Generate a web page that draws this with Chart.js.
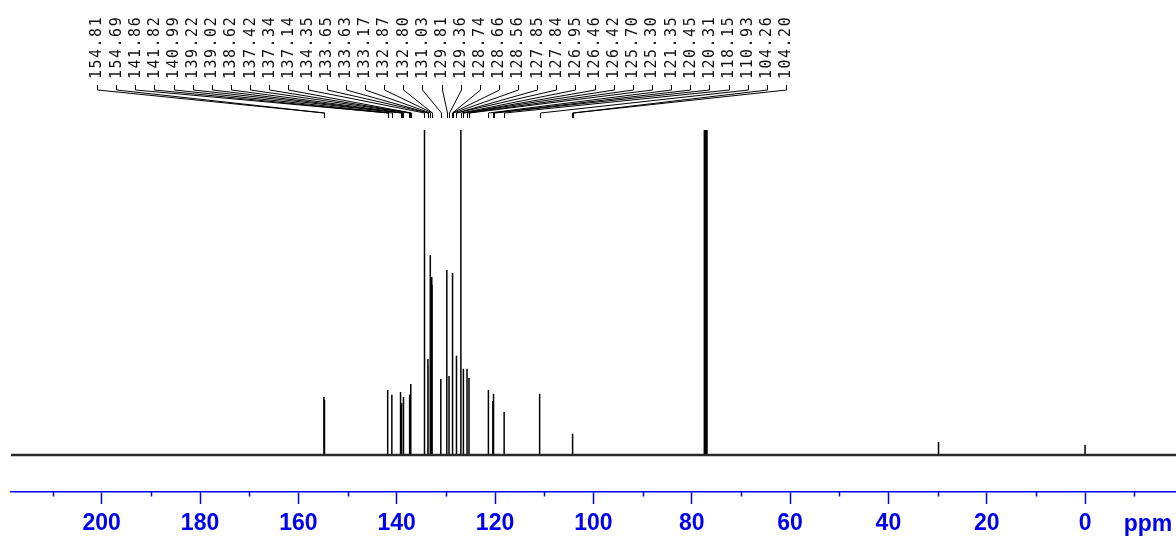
<!DOCTYPE html>
<html>
<head>
<meta charset="utf-8">
<script src="https://cdn.jsdelivr.net/npm/chart.js@4.4.1/dist/chart.umd.min.js"></script>
<style>
  html, body { margin: 0; padding: 0; background: #ffffff; }
  #wrap { width: 1176px; height: 538px; }
</style>
</head>
<body>
<div id="wrap"><canvas id="c" width="1176" height="538"></canvas></div>
<script>
// ---- Data ----
// Labeled peaks (ppm) as printed at the top of the spectrum
const labelPPM = [154.81, 154.69, 141.86, 141.82, 140.99, 139.22, 139.02, 138.62, 137.42, 137.34,
  137.14, 134.35, 133.65, 133.63, 133.17, 132.87, 132.80, 131.03, 129.81, 129.36,
  128.74, 128.66, 128.56, 127.85, 127.84, 126.95, 126.46, 126.42, 125.70, 125.30,
  121.35, 120.45, 120.31, 118.15, 110.93, 104.26, 104.20];
// Relative heights of those peaks (baseline = 0, chart top = 100; >100 is clipped)
const labelHeight = [17.8, 17.0, 20.0, 19.4, 18.5, 19.4, 16.0, 17.8, 18.5, 17.8,
  21.8, 110, 29.5, 27.7, 61.5, 54.8, 52.3, 23.4, 56.9, 24.3,
  56.0, 23.0, 24.6, 30.5, 29.8, 110, 26.5, 26.0, 26.5, 23.7,
  20.0, 16.6, 18.8, 13.2, 18.8, 6.5, 6.2];
// Unlabeled peaks: CDCl3 triplet, grease, TMS
const otherPPM = [77.43, 77.16, 76.89, 29.8, 0.0];
const otherHeight = [110, 110, 110, 4.0, 3.1];
// Axis
const axisMin = -18.5;
const axisMax = 218.45;
const tickStep = 10;
const axisTitle = 'ppm';

// ---- Build spectrum as sticks from the peak arrays ----
const allPeaks = labelPPM.map((p, i) => ({ p, h: labelHeight[i] }))
  .concat(otherPPM.map((p, i) => ({ p, h: otherHeight[i] })))
  .sort((a, b) => b.p - a.p);
const spectrum = [{ x: axisMax, y: 0 }];
allPeaks.forEach(k => {
  spectrum.push({ x: k.p, y: 0 }, { x: k.p, y: k.h }, { x: k.p, y: 0 });
});
spectrum.push({ x: axisMin, y: 0 });
const baseline = [{ x: axisMax, y: 0 }, { x: axisMin, y: 0 }];

const BLUE = '#0000f0';

const peakLabelPlugin = {
  id: 'peakLabels',
  afterDraw(chart) {
    const ctx = chart.ctx;
    const xs = chart.scales.x;
    const n = labelPPM.length;
    const firstX = 97, lastX = 786;
    const step = (lastX - firstX) / (n - 1);
    ctx.save();
    // leader lines
    ctx.strokeStyle = '#000';
    ctx.lineWidth = 1;
    ctx.beginPath();
    for (let i = 0; i < n; i++) {
      const lx = Math.round(firstX + i * step) + 0.5;
      const px = Math.round(xs.getPixelForValue(labelPPM[i])) + 0.5;
      ctx.moveTo(lx, 85);
      ctx.lineTo(lx, 90);
      ctx.lineTo(px, 113);
      ctx.lineTo(px, 118);
    }
    ctx.stroke();
    // labels
    ctx.fillStyle = '#111';
    ctx.font = '15px "DejaVu Sans Mono", monospace';
    try { ctx.letterSpacing = '1.5px'; } catch (e) {}
    ctx.textAlign = 'left';
    ctx.textBaseline = 'middle';
    for (let i = 0; i < n; i++) {
      const lx = firstX + i * step;
      ctx.save();
      ctx.translate(lx + 0.5, 79);
      ctx.rotate(-Math.PI / 2);
      ctx.fillText(labelPPM[i].toFixed(2), 0, 0);
      ctx.restore();
    }
    try { ctx.letterSpacing = '0px'; } catch (e) {}
    // minor ticks
    const yTop = xs.top;
    ctx.strokeStyle = BLUE;
    ctx.lineWidth = 1.5;
    ctx.beginPath();
    xs.ticks.forEach(t => {
      if (Math.round(t.value) % 20 !== 0) {
        const x = Math.round(xs.getPixelForValue(t.value)) + 0.5;
        ctx.moveTo(x, yTop);
        ctx.lineTo(x, yTop + 4.5);
      }
    });
    ctx.stroke();
    // axis title
    ctx.fillStyle = BLUE;
    ctx.font = 'bold 23px "Liberation Sans", Arial, sans-serif';
    ctx.textAlign = 'center';
    ctx.textBaseline = 'alphabetic';
    ctx.fillText(axisTitle, 1148, 531);
    ctx.restore();
  }
};

new Chart(document.getElementById('c'), {
  type: 'line',
  data: {
    datasets: [
      { data: baseline, borderColor: '#2a2a2a', borderWidth: 2.6, pointRadius: 0, tension: 0 },
      { data: spectrum, borderColor: '#000', borderWidth: 1.5, pointRadius: 0, tension: 0 }
    ]
  },
  options: {
    responsive: false,
    animation: false,
    devicePixelRatio: 1,
    parsing: false,
    layout: { padding: { left: 11, right: 0, top: 130, bottom: 0 } },
    plugins: { legend: { display: false }, tooltip: { enabled: false } },
    scales: {
      x: {
        type: 'linear',
        reverse: true,
        min: axisMin,
        max: axisMax,
        afterFit: s => { s.height = 46; },
        border: { color: BLUE, width: 1.5 },
        grid: {
          drawOnChartArea: false,
          drawTicks: true,
          tickLength: 12,
          tickWidth: 1.5,
          tickColor: c => (c.tick && Math.round(c.tick.value) % 20 === 0) ? BLUE : 'rgba(0,0,0,0)'
        },
        ticks: {
          stepSize: tickStep,
          includeBounds: false,
          autoSkip: false,
          maxRotation: 0,
          minRotation: 0,
          padding: 6,
          color: BLUE,
          font: { family: '"Liberation Sans", Arial, sans-serif', size: 23, weight: 'bold' },
          callback: v => (Math.round(v) % 20 === 0) ? String(Math.round(v)) : ''
        }
      },
      y: {
        display: false,
        min: -11.4,
        max: 100
      }
    }
  },
  plugins: [peakLabelPlugin]
});
</script>
</body>
</html>
